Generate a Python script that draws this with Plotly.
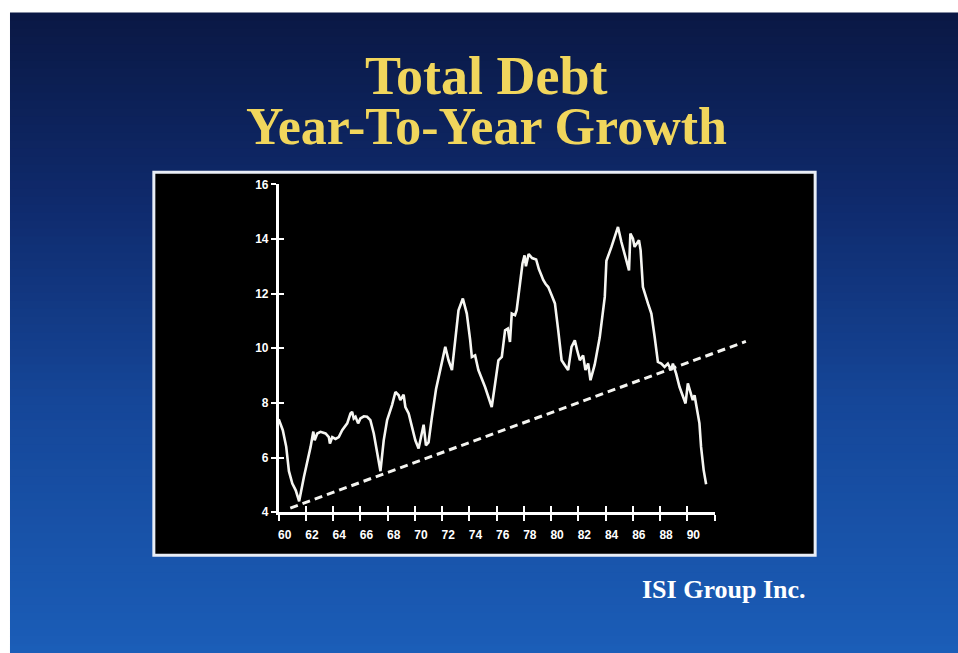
import plotly.graph_objects as go

# ---------------- data ----------------
years = [60.0, 60.3, 60.55, 60.75, 61.0, 61.25, 61.5, 61.85, 62.34, 62.54, 62.64, 62.83,
         63.07, 63.44, 63.68, 63.76, 63.93, 64.17, 64.41, 64.66, 65.03, 65.27, 65.39,
         65.51, 65.64, 65.83, 66.0, 66.25, 66.49, 66.73, 66.98, 67.22, 67.47, 67.71,
         67.96, 68.32, 68.57, 68.81, 68.93, 69.17, 69.3, 69.54, 69.79, 70.03, 70.27,
         70.52, 70.64, 70.81, 71.0, 71.25, 71.55, 72.23, 72.47, 72.72, 72.96, 73.2,
         73.52, 73.81, 74.06, 74.18, 74.42, 74.66, 75.15, 75.64, 75.89, 76.13, 76.38,
         76.62, 76.82, 76.98, 77.11, 77.35, 77.47, 77.72, 77.9, 78.05, 78.15, 78.35,
         78.6, 78.9, 79.1, 79.3, 79.42, 79.6, 79.79, 80.04, 80.28, 80.52, 80.77, 81.01,
         81.25, 81.5, 81.74, 81.91, 82.11, 82.35, 82.52, 82.72, 82.89, 83.2, 83.57,
         83.94, 84.06, 84.43, 84.67, 84.91, 85.16, 85.53, 85.72, 85.82, 86.01, 86.13,
         86.26, 86.45, 86.57, 86.74, 87.11, 87.36, 87.6, 87.84, 88.09, 88.33, 88.57,
         88.82, 88.94, 89.18, 89.43, 89.67, 89.87, 90.04, 90.21, 90.4, 90.53, 90.7,
         90.89, 91.01, 91.2, 91.38]
growth = [7.4, 7.0, 6.4, 5.5, 5.05, 4.8, 4.4, 5.29, 6.39, 6.95, 6.63, 6.88,
          6.94, 6.88, 6.75, 6.51, 6.75, 6.68, 6.75, 7.0, 7.25, 7.61, 7.67,
          7.43, 7.49, 7.25, 7.43, 7.51, 7.49, 7.37, 6.88, 6.21, 5.5, 6.63,
          7.37, 7.92, 8.4, 8.28, 8.1, 8.3, 7.85, 7.61, 7.12, 6.63, 6.33,
          6.88, 7.2, 6.45, 6.55, 7.49, 8.5, 10.05, 9.56, 9.2, 10.29, 11.39,
          11.82, 11.27, 10.29, 9.68, 9.74, 9.2, 8.58, 7.85, 8.71, 9.56, 9.68,
          10.66, 10.72, 10.23, 11.27, 11.21, 11.39, 12.49, 13.1, 13.4, 13.0, 13.45,
          13.3, 13.25, 12.9, 12.65, 12.5, 12.35, 12.24, 11.94, 11.64, 10.66, 9.56, 9.38,
          9.2, 10.05, 10.29, 9.93, 9.56, 9.74, 9.2, 9.44, 8.83, 9.4, 10.4,
          11.88, 13.2, 13.71, 14.07, 14.44, 13.89, 13.22, 12.85, 14.2, 14.01, 13.71,
          13.83, 13.95, 13.59, 12.24, 11.64, 11.27, 10.42, 9.5, 9.44, 9.32, 9.44,
          9.2, 9.44, 9.07, 8.58, 8.22, 7.98, 8.71, 8.4, 8.1, 8.28, 7.85,
          7.25, 6.39, 5.54, 5.02]

trend_years = [60.85, 94.3]
trend_values = [4.15, 10.25]

x_tickvals = [60, 62, 64, 66, 68, 70, 72, 74, 76, 78, 80, 82, 84, 86, 88, 90, 92]
x_ticktext = ["60", "62", "64", "66", "68", "70", "72", "74", "76", "78", "80",
              "82", "84", "86", "88", "90", ""]
y_tickvals = [4, 6, 8, 10, 12, 14, 16]
y_ticktext = ["4", "6", "8", "10", "12", "14", "16"]

title_line1 = "Total Debt"
title_line2 = "Year-To-Year Growth"
source_text = "ISI Group Inc."

# ---------------- geometry ----------------
W, H = 958, 653
px_x = lambda p: p / W


def px_y(p):
    # vertical target position (pixels from top) -> paper fraction
    f = (p - 6.6) / 0.979
    return 1 - f / H


x_left_px, x_right_px = 278.0, 714.3   # 60 .. 92
px_per_year = (x_right_px - x_left_px) / 32.0
x2_right_px = x_left_px + (94.5 - 60) * px_per_year
y_top_px, y_bot_px = 184.0, 512.0

fig = go.Figure()

fig.add_trace(go.Scatter(x=years, y=growth, mode="lines",
                         line=dict(color="#f6f6f2", width=2.6),
                         xaxis="x", yaxis="y", hoverinfo="skip", showlegend=False))
fig.add_trace(go.Scatter(x=trend_years, y=trend_values, mode="lines",
                         line=dict(color="#f4f4f0", width=3, dash="8px,5px"),
                         xaxis="x2", yaxis="y", hoverinfo="skip", showlegend=False))
fig.add_trace(go.Scatter(x=[None], y=[None], mode="lines",
                         xaxis="x3", yaxis="y2", hoverinfo="skip", showlegend=False))

# ---------------- background (gradient bands) ----------------
shapes = []
stops = [(12, (10, 24, 68)), (200, (15, 42, 108)), (400, (21, 70, 152)), (660, (27, 94, 184))]
def col_at(y):
    for (y0, c0), (y1, c1) in zip(stops[:-1], stops[1:]):
        if y0 <= y <= y1:
            t = (y - y0) / (y1 - y0)
            return "rgb(%d,%d,%d)" % tuple(round(a + (b - a) * t) for a, b in zip(c0, c1))
    return "rgb(%d,%d,%d)" % stops[-1][1]

band = 8
y = 12
while y < 665:
    y2 = y + band + 1
    shapes.append(dict(type="rect", xref="paper", yref="paper", layer="below",
                       x0=px_x(9), x1=1, y0=max(px_y(y2), 0), y1=px_y(y),
                       fillcolor=col_at(y + band / 2), line=dict(width=0)))
    y += band

# black chart panel with light border
shapes.append(dict(type="rect", xref="paper", yref="paper", layer="below",
                   x0=px_x(153), x1=px_x(815), y0=px_y(555), y1=px_y(172),
                   fillcolor="black", line=dict(color="#e9eef6", width=3)))

tick_font = dict(family="Liberation Sans Narrow, Arial Narrow, Liberation Sans, Arial",
                 size=12, color="white", weight="bold")

axis_common = dict(showgrid=False, zeroline=False, fixedrange=True)

fig.update_layout(
    width=W, height=H, autosize=False,
    margin=dict(l=0, r=0, t=0, b=0, pad=0),
    paper_bgcolor="white", plot_bgcolor="rgba(0,0,0,0)",
    showlegend=False,
    shapes=shapes,
    xaxis=dict(domain=[px_x(x_left_px), px_x(x_right_px)], range=[60, 92],
               anchor="y", tickmode="array", tickvals=x_tickvals, ticktext=x_ticktext,
               ticks="outside", ticklen=6, tickwidth=2, tickcolor="white",
               showline=True, linecolor="white", linewidth=2.5,
               tickfont=tick_font, ticklabelshift=6, ticklabelstandoff=4,
               **axis_common),
    xaxis3=dict(overlaying="x", range=[60, 92], anchor="y",
                tickmode="array", tickvals=x_tickvals, ticktext=[""] * len(x_tickvals),
                ticks="inside", ticklen=6, tickwidth=2, tickcolor="white",
                showline=False, showticklabels=False, **axis_common),
    xaxis2=dict(domain=[px_x(x_left_px), px_x(x2_right_px)], range=[60, 94.5],
                anchor="y", visible=False, **axis_common),
    yaxis=dict(domain=[px_y(y_bot_px), px_y(y_top_px)], range=[4, 16],
               anchor="x", tickmode="array", tickvals=y_tickvals, ticktext=y_ticktext,
               ticks="outside", ticklen=5, tickwidth=2, tickcolor="white",
               showline=True, linecolor="white", linewidth=2.5,
               tickfont=tick_font, ticklabelstandoff=0, **axis_common),
    yaxis2=dict(overlaying="y", range=[4, 16], anchor="x",
                tickmode="array", tickvals=y_tickvals, ticktext=[""] * len(y_tickvals),
                ticks="inside", ticklen=5, tickwidth=2, tickcolor="white",
                showline=False, showticklabels=False, **axis_common),
    annotations=[
        dict(text=title_line1, xref="paper", yref="paper", x=px_x(486), y=px_y(76),
             xanchor="center", yanchor="middle", showarrow=False,
             font=dict(family="Liberation Serif, Times New Roman, serif", size=54,
                       color="#f1d65c", weight="bold")),
        dict(text=title_line2, xref="paper", yref="paper", x=px_x(486), y=px_y(126),
             xanchor="center", yanchor="middle", showarrow=False,
             font=dict(family="Liberation Serif, Times New Roman, serif", size=52,
                       color="#f1d65c", weight="bold")),
        dict(text=source_text, xref="paper", yref="paper", x=px_x(724), y=px_y(589),
             xanchor="center", yanchor="middle", showarrow=False,
             font=dict(family="Liberation Serif, Times New Roman, serif", size=26,
                       color="white", weight="bold")),
    ],
)

fig.write_html(
    "out.html",
    config={"displayModeBar": False},
    post_script=("document.body.style.margin='0';"
                 "document.body.style.overflow='hidden';"
                 "document.documentElement.style.background="
                 "'linear-gradient(to bottom, #ffffff 0%, #ffffff 50%, rgb(27,94,184) 50%)';"),
)
